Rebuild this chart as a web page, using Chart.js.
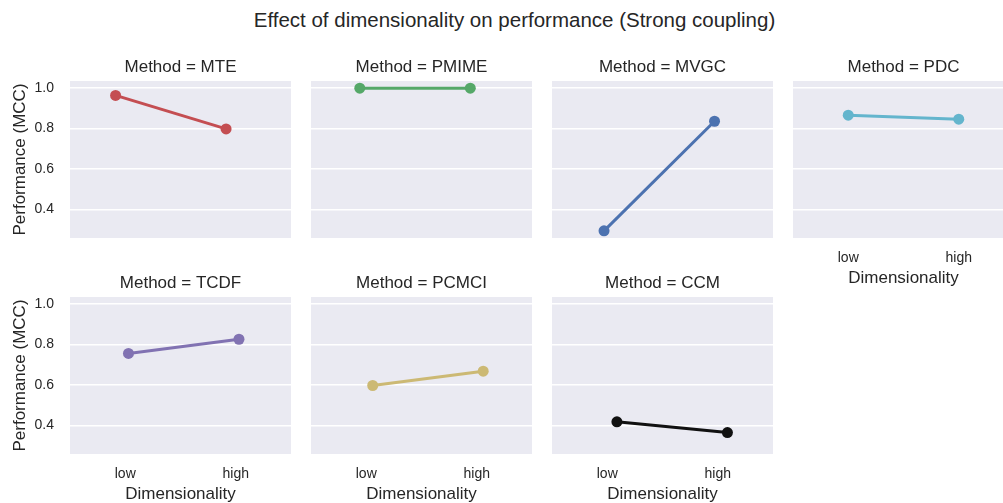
<!DOCTYPE html>
<html>
<head>
<meta charset="utf-8">
<script src="https://cdn.jsdelivr.net/npm/chart.js@4.4.1/dist/chart.umd.min.js"></script>
<style>
  body { margin: 0; background: #fff; }
  #figure { position: relative; width: 1003px; height: 503px; overflow: hidden; font-family: "Liberation Sans", Arial, sans-serif; }
  #suptitle { position: absolute; left: 0; width: 1029px; top: 8px; text-align: center; font-size: 20.5px; color: #262626; white-space: nowrap; }
  canvas { position: absolute; }
</style>
</head>
<body>
<div id="figure">
  <div id="suptitle">Effect of dimensionality on performance (Strong coupling)</div>
</div>
<script>
// MCC per method, low vs high dimensionality
var methods = ['MTE', 'PMIME', 'MVGC', 'PDC', 'TCDF', 'PCMCI', 'CCM'];
var dimensionality = ['low', 'high'];
var lowScores  = [0.964, 1.000, 0.293, 0.866, 0.756, 0.597, 0.417];
var highScores = [0.798, 1.000, 0.836, 0.846, 0.826, 0.668, 0.364];
var yTicks = [0.4, 0.6, 0.8, 1.0];

var colors = ['#C44E52', '#55A868', '#4C72B0', '#64B5CD', '#8172B2', '#CCB974', '#111111'];
var textColor = '#262626';

// grid geometry
var panelLeft = [70, 311, 552, 793];
var panelTop = [81, 297];
var plotW = 221, plotH = 157;
var axisW = 70, titleH = 30, axisH = 58;

// shared y limits with a 5% margin
var all = lowScores.concat(highScores);
var lo = Math.min.apply(null, all), hi = Math.max.apply(null, all);
var yMin = lo - 0.05 * (hi - lo), yMax = hi + 0.05 * (hi - lo);

// points of each hue are dodged a little, as in seaborn's pointplot
var dodgeWidth = 0.025 * methods.length;
function dodge(i) {
  return i * dodgeWidth / (methods.length - 1) - dodgeWidth / 2;
}

var panelBackground = {
  id: 'panelBackground',
  beforeDraw: function(chart) {
    var a = chart.chartArea, ctx = chart.ctx;
    ctx.save();
    ctx.fillStyle = '#EAEAF2';
    ctx.fillRect(a.left, a.top, a.right - a.left, a.bottom - a.top);
    ctx.restore();
  }
};

Chart.defaults.font.family = '"Liberation Sans", Arial, sans-serif';
Chart.defaults.color = textColor;

var figure = document.getElementById('figure');

methods.forEach(function(method, i) {
  var col = i % 4, row = Math.floor(i / 4);
  var showY = col === 0;
  var showX = row === 1 || col === 3;
  var off = dodge(i);

  var canvas = document.createElement('canvas');
  canvas.width = axisW + plotW;
  canvas.height = titleH + plotH + axisH;
  canvas.style.left = (panelLeft[col] - axisW) + 'px';
  canvas.style.top = (panelTop[row] - titleH) + 'px';
  figure.appendChild(canvas);

  new Chart(canvas, {
    type: 'line',
    data: {
      datasets: [{
        data: dimensionality.map(function(d, k) {
          return { x: k + off, y: k === 0 ? lowScores[i] : highScores[i] };
        }),
        borderColor: colors[i],
        backgroundColor: colors[i],
        borderWidth: 3,
        pointRadius: 5.5,
        pointBorderWidth: 0,
        tension: 0,
        clip: false
      }]
    },
    options: {
      responsive: false,
      animation: false,
      events: [],
      layout: { padding: 0, autoPadding: false },
      plugins: {
        legend: { display: false },
        tooltip: { enabled: false },
        title: {
          display: true,
          fullSize: false,
          text: 'Method = ' + method,
          color: textColor,
          font: { size: 17, weight: 'normal' },
          padding: { top: 6.1, bottom: 3.5 }
        }
      },
      scales: {
        x: {
          type: 'linear',
          min: -0.5,
          max: 1.5,
          afterBuildTicks: function(scale) {
            scale.ticks = dimensionality.map(function(d, k) { return { value: k }; });
          },
          afterFit: function(scale) { scale.height = axisH; },
          grid: { display: false },
          border: { display: false },
          ticks: {
            display: showX,
            padding: 3.5,
            maxRotation: 0,
            autoSkip: false,
            font: { size: 14 },
            callback: function(v) { return dimensionality[v]; }
          },
          title: {
            display: showX,
            text: 'Dimensionality',
            font: { size: 17 },
            padding: { top: 0, bottom: 7.3 }
          }
        },
        y: {
          min: yMin,
          max: yMax,
          afterBuildTicks: function(scale) {
            scale.ticks = yTicks.map(function(v) { return { value: v }; });
          },
          afterFit: function(scale) { scale.width = axisW; },
          grid: { color: '#ffffff', lineWidth: 1.5, drawTicks: false },
          border: { display: false },
          ticks: {
            display: showY,
            padding: 16,
            font: { size: 14 },
            callback: function(v) { return v.toFixed(1); }
          },
          title: {
            display: showY,
            text: 'Performance (MCC)',
            font: { size: 17 },
            padding: { top: 10, bottom: 0 }
          }
        }
      }
    },
    plugins: [panelBackground]
  });
});
</script>
</body>
</html>
